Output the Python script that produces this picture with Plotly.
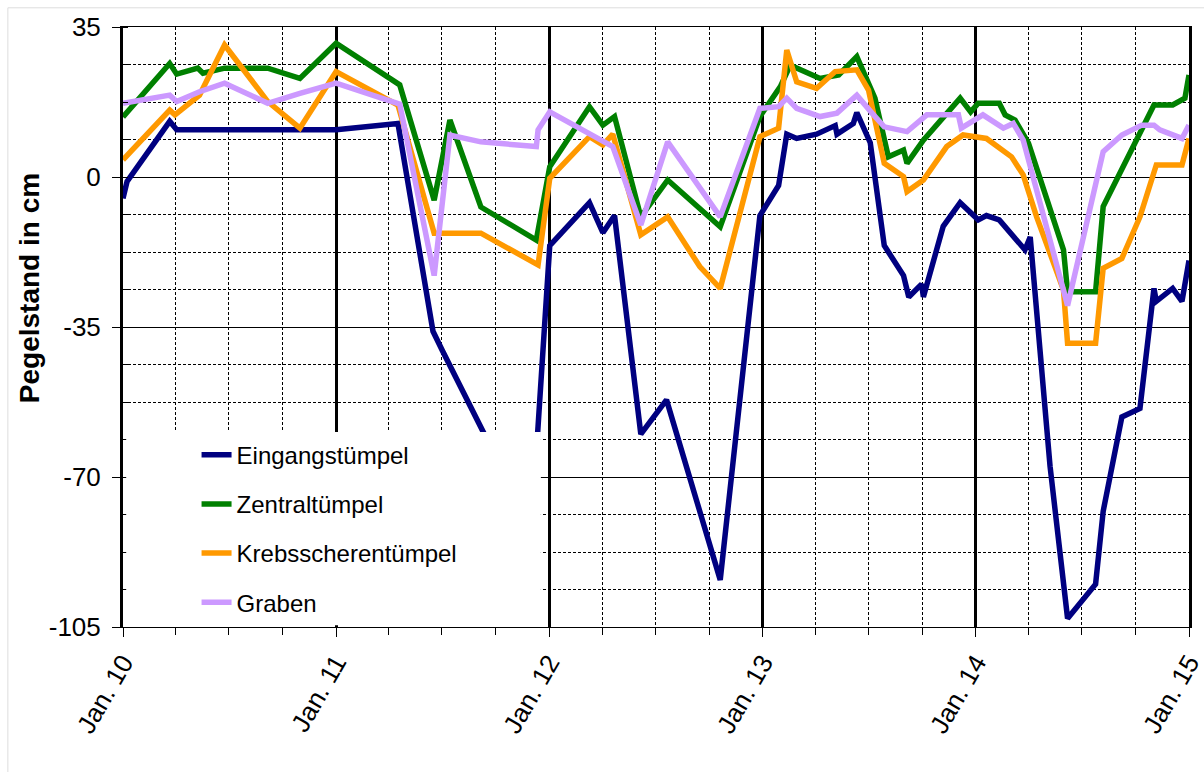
import plotly.graph_objects as go

# Pegelstand (water level, cm) of four ponds, 2010-2015
eingang_dates = ["2010-01-01", "2010-01-08", "2010-03-22", "2010-04-03", "2011-01-01", "2011-04-17",
                 "2011-06-16", "2011-07-02", "2011-09-12", "2011-10-25", "2011-12-05", "2012-01-02",
                 "2012-03-10", "2012-04-02", "2012-04-22", "2012-06-06", "2012-07-20", "2012-10-20",
                 "2012-12-27", "2013-01-28", "2013-02-11", "2013-02-28", "2013-04-03", "2013-05-05",
                 "2013-05-08", "2013-06-05", "2013-06-11", "2013-07-04", "2013-07-28", "2013-08-30",
                 "2013-09-08", "2013-09-30", "2013-10-03", "2013-11-06", "2013-12-05", "2014-01-05",
                 "2014-01-19", "2014-02-10", "2014-03-26", "2014-04-04", "2014-05-08", "2014-06-07",
                 "2014-07-25", "2014-08-07", "2014-09-08", "2014-10-09", "2014-11-02", "2014-11-06",
                 "2014-12-04", "2014-12-20", "2015-01-01"]
eingang_values = [-5, -1, 13, 11, 11, 12.5,
                  -36, -40.5, -60, -75, -75, -16,
                  -6, -13, -9, -60, -52, -94,
                  -9, -2, 10, 9, 10, 12,
                  10, 12.5, 15, 8, -16, -23,
                  -28, -25, -28, -11.5, -6, -10,
                  -9, -10, -17, -14, -67.5, -103,
                  -95, -78, -56, -54, -26, -29,
                  -26, -29, -19.5]

zentral_dates = ["2010-01-01", "2010-03-22", "2010-04-03", "2010-05-09", "2010-05-18", "2010-06-24",
                 "2010-09-06", "2010-10-31", "2011-01-01", "2011-04-20", "2011-06-18", "2011-07-15",
                 "2011-09-06", "2011-12-10", "2012-01-02", "2012-03-10", "2012-04-02", "2012-04-22",
                 "2012-06-06", "2012-07-22", "2012-10-20", "2012-12-27", "2013-01-31", "2013-02-17",
                 "2013-04-09", "2013-05-11", "2013-06-11", "2013-07-12", "2013-08-04", "2013-08-30",
                 "2013-09-05", "2013-10-03", "2013-12-05", "2013-12-23", "2014-01-05", "2014-02-10",
                 "2014-02-20", "2014-03-09", "2014-04-01", "2014-05-31", "2014-06-07", "2014-07-25",
                 "2014-08-07", "2014-11-02", "2014-12-04", "2014-12-25", "2015-01-01"]
zentral_values = [14, 26.5, 24, 25.4, 24.2, 25.4,
                  25.4, 23, 31.2, 21.5, -5.4, 13.3,
                  -7, -14.7, 2.4, 16.4, 12.1, 14.1,
                  -9.3, -0.7, -11.6, 14.1, 21.1, 26.1,
                  23, 23.8, 28.1, 18.4, 4.7, 6.3,
                  3.2, 8.6, 18.4, 15.2, 17.2, 17.2,
                  14.5, 13.3, 7.9, -17, -26.8, -26.8,
                  -6.9, 16.8, 16.8, 18.4, 23.8]

krebs_dates = ["2010-01-01", "2010-03-22", "2010-03-31", "2010-05-12", "2010-06-24", "2010-09-06",
               "2010-10-31", "2011-01-01", "2011-04-17", "2011-06-18", "2011-09-06", "2011-12-13",
               "2012-01-02", "2012-03-10", "2012-04-02", "2012-04-19", "2012-06-06", "2012-07-22",
               "2012-09-15", "2012-10-20", "2012-12-27", "2013-01-28", "2013-02-11", "2013-02-28",
               "2013-04-03", "2013-05-05", "2013-06-11", "2013-07-01", "2013-07-28", "2013-08-30",
               "2013-09-05", "2013-10-03", "2013-11-12", "2013-12-10", "2014-01-19", "2014-02-10",
               "2014-03-03", "2014-03-23", "2014-04-15", "2014-05-31", "2014-06-07", "2014-07-25",
               "2014-08-07", "2014-09-08", "2014-10-09", "2014-11-06", "2014-12-20", "2015-01-01"]
krebs_values = [4, 15.6, 14.5, 19.1, 30.8, 17.6,
                11.4, 24.6, 16.8, -13.1, -13.1, -20.5,
                -0.3, 9.4, 7.5, 10, -13.5, -9.3,
                -20.9, -26, 9.4, 11.4, 29.6, 22.2,
                20.7, 24.6, 25, 20.3, 3.2, 0.1,
                -3.4, -0.7, 7.1, 9.8, 9, 6.7,
                4.7, 0.5, -9.3, -26.4, -38.8, -38.8,
                -21.3, -19, -9.3, 2.8, 2.8, 9]

graben_dates = ["2010-01-01", "2010-03-22", "2010-04-03", "2010-05-12", "2010-06-24", "2010-09-06",
                "2010-10-31", "2011-01-01", "2011-04-20", "2011-06-18", "2011-07-15", "2011-09-06",
                "2011-12-10", "2011-12-13", "2012-01-02", "2012-04-19", "2012-06-06", "2012-07-22",
                "2012-10-20", "2012-12-27", "2013-01-28", "2013-02-11", "2013-02-28", "2013-04-09",
                "2013-05-08", "2013-06-11", "2013-07-07", "2013-07-28", "2013-09-05", "2013-10-09",
                "2013-12-02", "2013-12-07", "2014-01-13", "2014-02-17", "2014-03-06", "2014-03-23",
                "2014-06-07", "2014-08-07", "2014-09-08", "2014-10-12", "2014-11-02", "2014-11-12",
                "2014-12-20", "2015-01-01"]
graben_values = [17.2, 19.1, 17.6, 19.9, 21.9, 17.2,
                 19.5, 21.9, 17, -23, 9.8, 8.2,
                 7.1, 11, 15.2, 7.1, -11.2, 8.2,
                 -9.3, 16, 16.4, 18.4, 16, 14.1,
                 14.9, 19.1, 14.9, 11.7, 10.6, 14.5,
                 14.5, 11.4, 14.5, 11.4, 12.5, 8.6,
                 -30, 5.9, 9.8, 12.1, 12.1, 11,
                 9, 12.1]

series = [
    ("Eingangstümpel", eingang_dates, eingang_values, "#000080"),
    ("Zentraltümpel", zentral_dates, zentral_values, "#008000"),
    ("Krebsscherentümpel", krebs_dates, krebs_values, "#FF9900"),
    ("Graben", graben_dates, graben_values, "#CC99FF"),
]

y_ticks = [35, 0, -35, -70, -105]
FONT = "Arial, Liberation Sans, sans-serif"

fig = go.Figure()
for name, d, v, c in series:
    fig.add_trace(go.Scatter(x=d, y=v, name=name, mode="lines", legendgroup=name,
                             line=dict(color=c, width=5.5)))

fig.update_layout(
    width=1204, height=772,
    margin=dict(l=123, r=15, t=27, b=145),
    paper_bgcolor="white", plot_bgcolor="white",
    font=dict(family=FONT, size=24, color="black"),
    showlegend=True,
    legend=dict(x=0.069, y=0.324, xanchor="left", yanchor="top",
                bgcolor="rgba(0,0,0,0)", borderwidth=0,
                font=dict(size=24, family=FONT, color="black"),
                tracegroupgap=15),
    shapes=[
        # white legend panel laid over the grid and lines
        dict(type="rect", xref="paper", yref="paper", x0=0.003, x1=0.392, y0=0.003, y1=0.325,
             fillcolor="white", line=dict(width=0), layer="above"),
        # faint frame around the figure
        dict(type="rect", xref="paper", yref="paper", x0=-0.108, x1=1.05, y0=-0.3, y1=1.032,
             fillcolor="rgba(0,0,0,0)", line=dict(color="#dddddd", width=1), layer="below"),
    ],
    annotations=[
        dict(text="<b>Pegelstand in cm</b>", xref="paper", yref="paper",
             x=-0.088, y=0.565, xanchor="center", yanchor="middle", textangle=-90,
             showarrow=False, font=dict(size=28, family=FONT, color="black")),
    ],
)

fig.update_xaxes(
    type="date", range=["2010-01-01", "2015-01-01"], automargin=False,
    tick0="2010-01-01", dtick="M12", tickformat="%b. %y", tickangle=-60,
    ticklabeloverflow="allow",
    ticks="outside", ticklen=9, tickwidth=1, tickcolor="black",
    showgrid=True, gridcolor="black", gridwidth=3,
    showline=True, linecolor="black", linewidth=1, mirror=True,
    tickfont=dict(size=26, family=FONT),
    minor=dict(dtick="M3", ticks="outside", ticklen=7, tickcolor="black",
               showgrid=True, gridcolor="black", gridwidth=1, griddash="3px,2px"),
)
fig.update_yaxes(
    range=[-105, 35], tickvals=y_ticks, ticktext=[str(t) for t in y_ticks], automargin=False,
    ticks="outside", ticklen=8, tickwidth=1, tickcolor="black",
    ticklabelstandoff=6,
    showgrid=True, gridcolor="black", gridwidth=1, zeroline=False,
    showline=True, linecolor="black", linewidth=3, mirror=True,
    tickfont=dict(size=26, family=FONT),
    minor=dict(dtick=8.75, tick0=0, ticks="inside", ticklen=5, tickcolor="black",
               showgrid=True, gridcolor="black", gridwidth=1, griddash="3px,2px"),
)

fig.write_html("out.html")
